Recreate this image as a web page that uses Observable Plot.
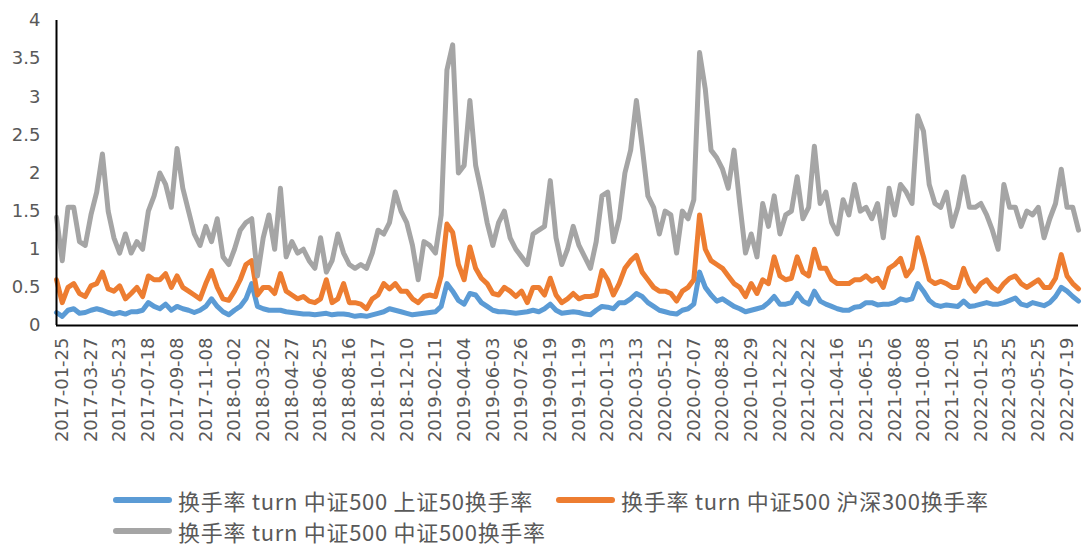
<!DOCTYPE html>
<html>
<head>
<meta charset="utf-8">
<script src="https://cdn.jsdelivr.net/npm/d3@7"></script>
<script src="https://cdn.jsdelivr.net/npm/@observablehq/plot@0.6"></script>
<style>
  html, body { margin: 0; padding: 0; background: #fff; }
  #wrap { position: relative; width: 1088px; height: 546px; overflow: hidden; }
  #chart svg { display: block; }
  .legend { position: absolute; left: 113px; top: 484px; font-family: "Noto Sans CJK SC", sans-serif; font-size: 22px; letter-spacing: 0.7px; line-height: 1; color: #595959; }
  .row { display: flex; height: 31px; align-items: center; }
  .item { display: flex; align-items: center; white-space: nowrap; }
  .sw { width: 59px; height: 6px; border-radius: 3px; margin-right: 6px; }
  .tx { display: inline-block; height: 22px; line-height: 22px; }
</style>
</head>
<body>
<div id="wrap">
  <div id="chart"></div>
  <div class="legend" id="legend"></div>
</div>
<script>
// Tick labels (one every 5 samples)
const dateLabels = ["2017-01-25","2017-03-27","2017-05-23","2017-07-18","2017-09-08","2017-11-08",
  "2018-01-02","2018-03-02","2018-04-27","2018-06-25","2018-08-16","2018-10-17","2018-12-10",
  "2019-02-11","2019-04-04","2019-06-03","2019-07-26","2019-09-19","2019-11-19",
  "2020-01-13","2020-03-13","2020-05-12","2020-07-07","2020-08-28","2020-10-29","2020-12-22",
  "2021-02-22","2021-04-16","2021-06-15","2021-08-06","2021-10-08","2021-12-01",
  "2022-01-25","2022-03-25","2022-05-25","2022-07-19"];
const samplesPerLabel = 5;
const firstLabelSample = 1;

const seriesNames = ["换手率 turn 中证500 上证50换手率", "换手率 turn 中证500 沪深300换手率", "换手率 turn 中证500 中证500换手率"];
const seriesColors = ["#5B9BD5", "#ED7D31", "#A5A5A5"];

// 上证50换手率 (blue)
const sh50 = [
 0.17,0.12,0.2,0.22,0.16,0.17,0.2,0.22,0.2,0.17,
 0.15,0.17,0.15,0.18,0.18,0.2,0.3,0.25,0.22,0.28,
 0.2,0.25,0.22,0.2,0.17,0.2,0.25,0.35,0.25,0.18,
 0.14,0.2,0.25,0.35,0.55,0.25,0.22,0.2,0.2,0.2,
 0.18,0.17,0.16,0.15,0.15,0.14,0.15,0.16,0.14,0.15,
 0.15,0.14,0.12,0.13,0.12,0.14,0.16,0.18,0.22,0.2,
 0.18,0.16,0.14,0.15,0.16,0.17,0.18,0.25,0.55,0.45,
 0.33,0.28,0.42,0.4,0.3,0.25,0.2,0.18,0.18,0.17,
 0.16,0.17,0.18,0.2,0.18,0.22,0.28,0.2,0.16,0.17,
 0.18,0.17,0.15,0.14,0.2,0.25,0.24,0.22,0.3,0.3,
 0.35,0.42,0.38,0.3,0.25,0.2,0.18,0.16,0.15,0.2,
 0.22,0.28,0.7,0.5,0.4,0.32,0.35,0.3,0.25,0.22,
 0.18,0.2,0.22,0.24,0.3,0.38,0.28,0.28,0.3,0.42,
 0.32,0.28,0.45,0.32,0.28,0.25,0.22,0.2,0.2,0.24,
 0.25,0.3,0.3,0.27,0.28,0.28,0.3,0.35,0.33,0.35,
 0.55,0.45,0.33,0.27,0.25,0.27,0.26,0.25,0.32,0.25,
 0.26,0.28,0.3,0.28,0.28,0.3,0.33,0.36,0.28,0.26,
 0.3,0.28,0.26,0.3,0.38,0.5,0.45,0.38,0.32];

// 沪深300换手率 (orange)
const hs300 = [
 0.6,0.3,0.5,0.55,0.42,0.38,0.52,0.55,0.7,0.48,
 0.45,0.52,0.35,0.42,0.5,0.38,0.65,0.6,0.6,0.68,
 0.5,0.65,0.5,0.45,0.4,0.35,0.55,0.72,0.5,0.35,
 0.33,0.45,0.6,0.8,0.85,0.4,0.5,0.5,0.42,0.68,
 0.45,0.4,0.35,0.38,0.32,0.3,0.35,0.6,0.3,0.35,
 0.55,0.3,0.3,0.28,0.22,0.35,0.4,0.55,0.48,0.55,
 0.45,0.45,0.35,0.3,0.38,0.4,0.38,0.65,1.33,1.22,
 0.8,0.6,1.03,0.75,0.62,0.55,0.42,0.4,0.5,0.45,
 0.38,0.45,0.3,0.5,0.5,0.4,0.62,0.4,0.3,0.35,
 0.42,0.35,0.38,0.38,0.4,0.72,0.6,0.4,0.55,0.75,
 0.85,0.92,0.7,0.6,0.5,0.45,0.45,0.42,0.32,0.45,
 0.5,0.6,1.45,1.0,0.85,0.8,0.75,0.65,0.55,0.5,
 0.38,0.55,0.42,0.6,0.55,0.9,0.65,0.6,0.62,0.9,
 0.7,0.65,1.0,0.75,0.75,0.6,0.55,0.55,0.55,0.6,
 0.6,0.65,0.58,0.62,0.5,0.75,0.8,0.88,0.65,0.75,
 1.15,0.9,0.6,0.55,0.58,0.55,0.5,0.5,0.75,0.55,
 0.45,0.55,0.6,0.5,0.45,0.55,0.62,0.65,0.55,0.5,
 0.55,0.6,0.5,0.5,0.62,0.93,0.65,0.55,0.48];

// 中证500换手率 (grey)
const zz500 = [
 1.42,0.85,1.55,1.55,1.1,1.05,1.45,1.75,2.25,1.5,
 1.15,0.95,1.2,0.95,1.1,1.0,1.5,1.7,2.0,1.85,
 1.55,2.32,1.8,1.5,1.2,1.05,1.3,1.1,1.4,0.9,
 0.8,1.0,1.25,1.35,1.4,0.65,1.15,1.45,1.0,1.8,
 0.9,1.1,0.95,1.0,0.85,0.75,1.15,0.7,0.85,1.2,
 0.95,0.8,0.75,0.8,0.75,0.95,1.25,1.2,1.35,1.75,
 1.5,1.35,1.05,0.6,1.1,1.05,0.95,1.45,3.35,3.68,
 2.0,2.1,2.95,2.1,1.75,1.35,1.05,1.35,1.5,1.15,
 1.0,0.9,0.8,1.2,1.25,1.3,1.9,1.15,0.8,1.0,
 1.3,1.05,0.9,0.75,1.1,1.7,1.75,1.1,1.4,2.0,
 2.3,2.95,2.35,1.7,1.55,1.2,1.5,1.45,0.95,1.5,
 1.4,1.65,3.58,3.1,2.3,2.2,2.05,1.8,2.3,1.6,
 0.95,1.2,0.9,1.6,1.3,1.7,1.2,1.45,1.5,1.95,
 1.4,1.55,2.35,1.6,1.75,1.35,1.2,1.65,1.45,1.85,
 1.5,1.55,1.4,1.6,1.15,1.8,1.45,1.85,1.75,1.6,
 2.75,2.55,1.85,1.6,1.55,1.75,1.3,1.55,1.95,1.55,
 1.55,1.6,1.45,1.25,1.0,1.85,1.55,1.55,1.3,1.5,
 1.45,1.55,1.15,1.4,1.6,2.05,1.55,1.55,1.25];

const yTicks = [0, 0.5, 1, 1.5, 2, 2.5, 3, 3.5, 4];

const allSeries = [sh50, hs300, zz500];
const n = zz500.length;
const tickPositions = dateLabels.map((d, k) => firstLabelSample + k * samplesPerLabel);

const rows = allSeries.map((arr, s) => arr.map((v, i) => ({i, v, s})));

const chart = Plot.plot({
  width: 1088,
  height: 450,
  marginLeft: 56,
  marginRight: 10,
  marginTop: 20,
  marginBottom: 125,
  style: {fontFamily: "DejaVu Sans", fontSize: "18px", color: "#595959", background: "#fff"},
  x: {domain: [0, n - 1], axis: null},
  y: {domain: [0, 4], axis: null},
  marks: [
    Plot.axisY({ticks: yTicks, label: null, tickSize: 0, tickPadding: 16, fontSize: 18, fill: "#595959", tickFormat: d => String(d)}),
    Plot.axisX({ticks: tickPositions, label: null, tickSize: 0, tickPadding: 12, tickRotate: -90, fontSize: 18, fill: "#595959",
      tickFormat: d => dateLabels[Math.round((d - firstLabelSample) / samplesPerLabel)]}),
    ...rows.map((data, s) => Plot.line(data, {x: "i", y: "v", stroke: seriesColors[s], strokeWidth: 5, strokeLinejoin: "round", strokeLinecap: "round"})),
    Plot.ruleY([0], {stroke: "#000", strokeWidth: 2}),
    Plot.ruleX([0], {y1: 0, y2: 4, stroke: "#000", strokeWidth: 2})
  ]
});
document.getElementById("chart").appendChild(chart);

// Legend
const legend = document.getElementById("legend");
const layout = [[0, 1], [2]];
layout.forEach(r => {
  const row = document.createElement("div");
  row.className = "row";
  r.forEach((s, j) => {
    const item = document.createElement("div");
    item.className = "item";
    if (j === 0 && r.length > 1) item.style.width = "443px";
    const sw = document.createElement("div");
    sw.className = "sw";
    sw.style.background = seriesColors[s];
    const tx = document.createElement("span");
    tx.className = "tx";
    tx.textContent = seriesNames[s];
    item.appendChild(sw);
    item.appendChild(tx);
    row.appendChild(item);
  });
  legend.appendChild(row);
});
</script>
</body>
</html>
